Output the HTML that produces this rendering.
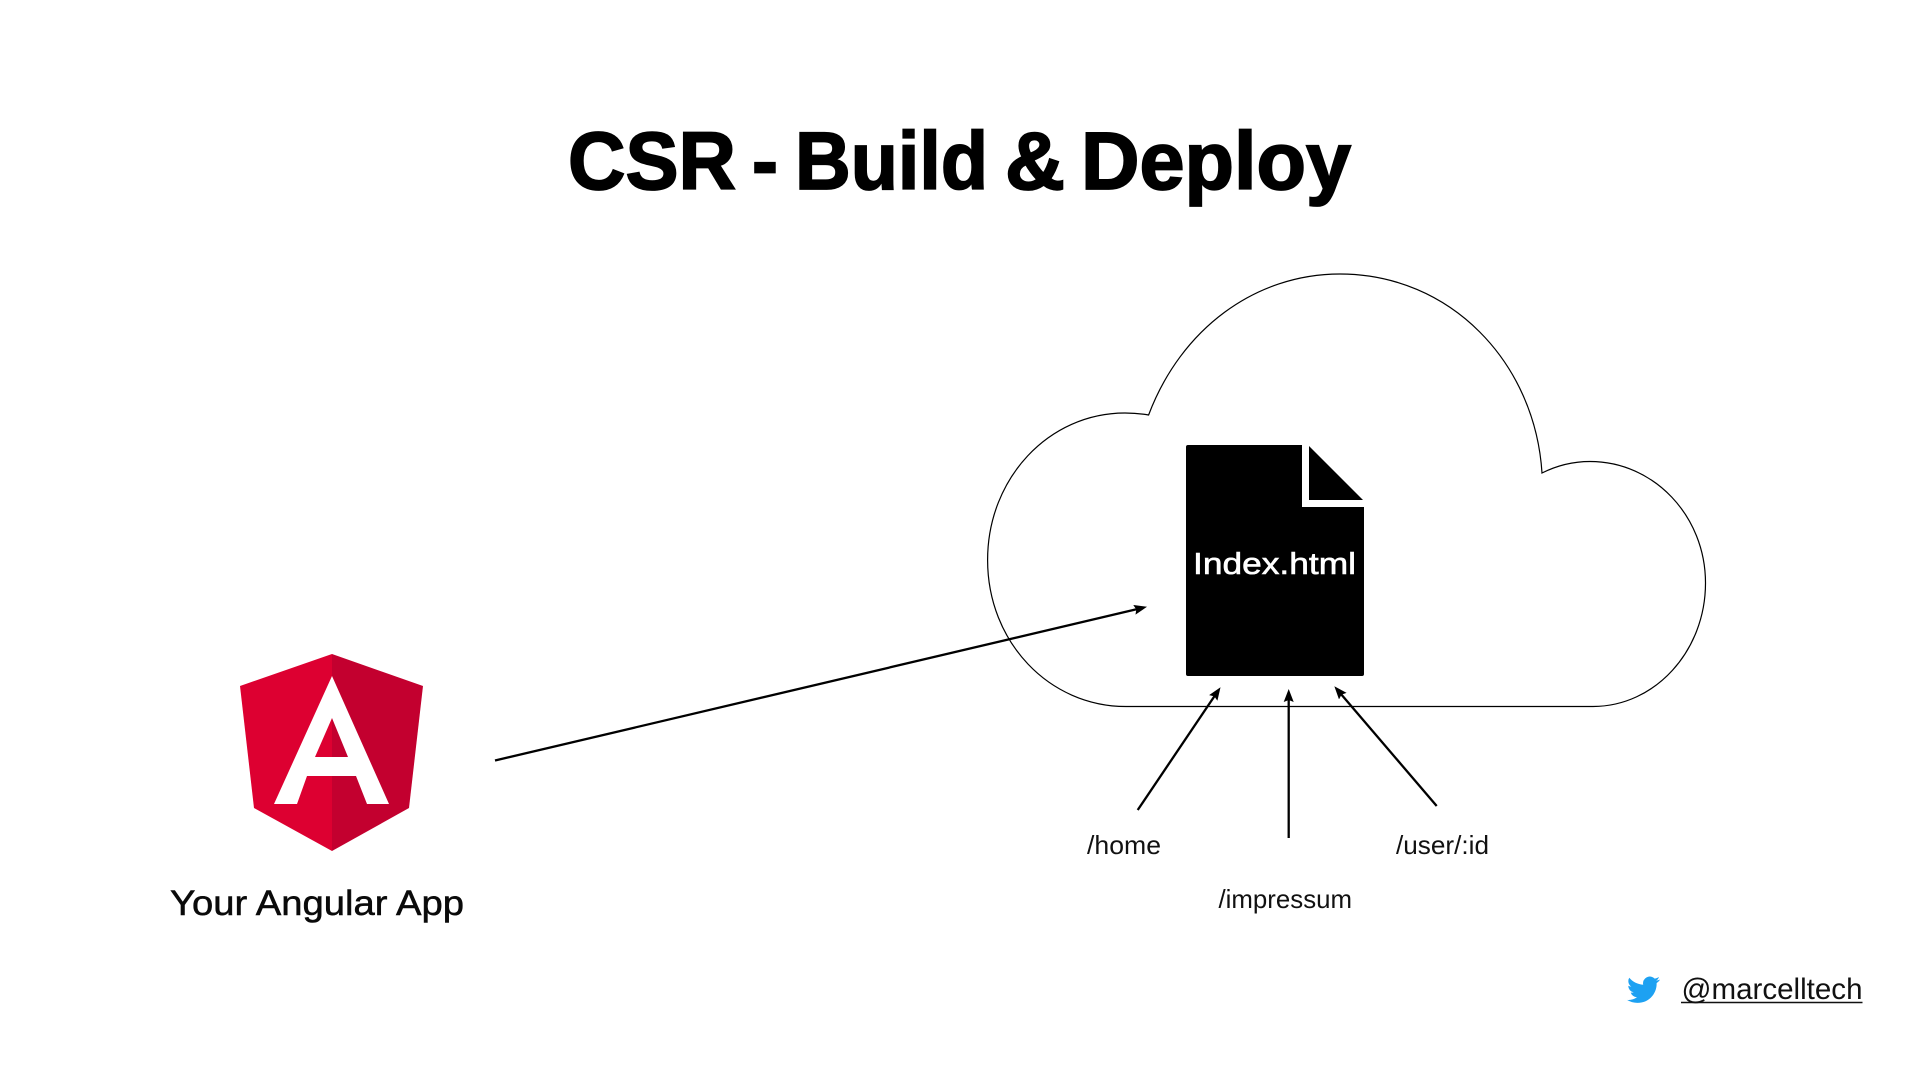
<!DOCTYPE html>
<html lang="en">
<head>
<meta charset="utf-8">
<title>CSR - Build &amp; Deploy</title>
<style>
html,body{margin:0;padding:0;background:#fff;width:1920px;height:1080px;overflow:hidden}
svg{display:block}
text{font-family:"Liberation Sans",sans-serif}
</style>
</head>
<body>
<svg width="1920" height="1080" viewBox="0 0 1920 1080" xmlns="http://www.w3.org/2000/svg">
<defs>
<marker id="ah" markerUnits="userSpaceOnUse" markerWidth="15" markerHeight="12" refX="6" refY="5" orient="auto">
<polygon points="0,0 13,5 0,10 2,5" fill="#000"/>
</marker>
</defs>
<rect width="1920" height="1080" fill="#fff"/>

<g font-size="82" font-weight="700" fill="#000" stroke="#000" stroke-width="1.8">
<text x="568" y="189" textLength="168" lengthAdjust="spacingAndGlyphs">CSR</text>
<text x="752" y="189" textLength="26" lengthAdjust="spacingAndGlyphs">-</text>
<text x="795" y="189" textLength="193" lengthAdjust="spacingAndGlyphs">Build</text>
<text x="1005" y="189" textLength="60" lengthAdjust="spacingAndGlyphs">&amp;</text>
<text x="1081" y="189" textLength="270" lengthAdjust="spacingAndGlyphs">Deploy</text>
</g>

<path d="M1126 706.5 L1593 706.5 C1655 706.5 1705.5 651 1705.5 583 C1705.5 516 1654 461.5 1590 461.5 C1573 461.5 1557 465.5 1542 473 C1535 362 1450 274 1340 274 C1255 274 1181 329 1148.6 415 C1140 413.5 1133 413 1125 413 C1049 413 987.6 478 987.6 560 C987.6 642 1049 706.5 1126 706.5 Z" fill="none" stroke="#000" stroke-width="1.2"/>

<path d="M1188 445 L1302 445 L1302 507 L1364 507 L1364 674 Q1364 676 1362 676 L1188 676 Q1186 676 1186 674 L1186 447 Q1186 445 1188 445 Z" fill="#000"/>
<polygon points="1309,446 1363,500 1309,500" fill="#000"/>
<text x="1193" y="574" font-size="31" fill="#fff" stroke="#fff" stroke-width="0.6" textLength="163" lengthAdjust="spacingAndGlyphs">Index.html</text>

<line x1="495" y1="760.5" x2="1140.2" y2="608.4" stroke="#000" stroke-width="2.3" marker-end="url(#ah)"/>
<line x1="1137.7" y1="810" x2="1216.6" y2="693" stroke="#000" stroke-width="2.3" marker-end="url(#ah)"/>
<line x1="1288.7" y1="838" x2="1288.7" y2="696" stroke="#000" stroke-width="2.3" marker-end="url(#ah)"/>
<line x1="1436.7" y1="806" x2="1338.9" y2="691.6" stroke="#000" stroke-width="2.3" marker-end="url(#ah)"/>

<text x="1087" y="854" font-size="26" fill="#111" textLength="74" lengthAdjust="spacingAndGlyphs">/home</text>
<text x="1396" y="854" font-size="26" fill="#111" textLength="93" lengthAdjust="spacingAndGlyphs">/user/:id</text>
<text x="1218.500" y="908" font-size="26" fill="#111" textLength="133.500" lengthAdjust="spacingAndGlyphs">/impressum</text>

<polygon points="332,654 240,686 254,808 332,851" fill="#DD0031"/>
<polygon points="332,654 423,686 409,808 332,851" fill="#C3002F"/>
<path fill-rule="evenodd" d="M332 676 L389 804 L367 804 L356 776 L307 776 L297 804 L274 804 Z M332 718 L315 757 L348 757 Z" fill="#fff"/>

<text x="170" y="915" font-size="35" fill="#0a0a0a" stroke="#0a0a0a" stroke-width="0.5" textLength="294" lengthAdjust="spacingAndGlyphs">Your Angular App</text>

<g transform="translate(1627 973.5) scale(1.375 1.35)">
<path fill="#1DA1F2" d="M23.953 4.57a10 10 0 01-2.825.775 4.958 4.958 0 002.163-2.723c-.951.555-2.005.959-3.127 1.184a4.92 4.92 0 00-8.384 4.482C7.69 8.095 4.067 6.13 1.64 3.162a4.822 4.822 0 00-.666 2.475c0 1.71.87 3.213 2.188 4.096a4.904 4.904 0 01-2.228-.616v.06a4.923 4.923 0 003.946 4.827 4.996 4.996 0 01-2.212.085 4.936 4.936 0 004.604 3.417 9.867 9.867 0 01-6.102 2.105c-.39 0-.779-.023-1.17-.067a13.995 13.995 0 007.557 2.209c9.053 0 13.998-7.496 13.998-13.985 0-.21 0-.42-.015-.63A9.935 9.935 0 0024 4.59z"/>
</g>
<text x="1681.500" y="999" font-size="30" fill="#111" textLength="181" lengthAdjust="spacingAndGlyphs">@marcelltech</text>
<line x1="1681" y1="1002.500" x2="1862.500" y2="1002.500" stroke="#111" stroke-width="1.6"/>
</svg>
</body>
</html>
